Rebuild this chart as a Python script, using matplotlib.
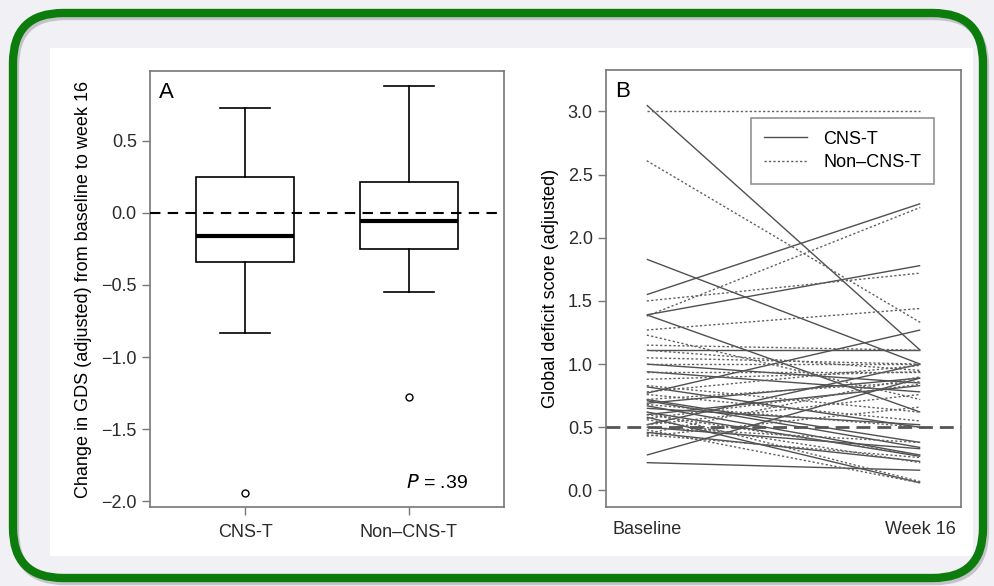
import numpy as np
import matplotlib.pyplot as plt
from matplotlib.patches import FancyBboxPatch, Rectangle
from matplotlib.lines import Line2D

plt.rcParams['font.family'] = ['Liberation Sans', 'DejaVu Sans']

# panel A: box statistics of the change in GDS (baseline -> week 16)
groups = ['CNS-T', 'Non–CNS-T']
box_q1 = [-0.343, -0.248]
box_med = [-0.163, -0.054]
box_q3 = [0.245, 0.213]
whisk_lo = [-0.832, -0.55]
whisk_hi = [0.723, 0.878]
outliers = [[-1.943], [-1.275]]
p_text = '= .39'

# panel B: global deficit score per subject
time_labels = ['Baseline', 'Week 16']
cns_base = [3.05, 1.83, 1.55, 1.39, 1.39, 1.11, 1.00, 0.94, 0.82, 0.77, 0.72, 0.71,
            0.69, 0.67, 0.65, 0.62, 0.60, 0.58, 0.52, 0.50, 0.28, 0.22, 0.46]
cns_wk16 = [1.11, 1.00, 2.27, 1.78, 0.62, 1.11, 0.85, 0.78, 0.50, 1.27, 0.38, 0.34,
            0.89, 0.28, 0.52, 0.27, 0.83, 0.06, 1.00, 0.33, 0.89, 0.16, 0.23]
non_base = [3.00, 2.61, 1.50, 1.38, 1.27, 1.23, 1.15, 1.11, 1.05, 1.00, 0.94, 0.88,
            0.83, 0.78, 0.76, 0.72, 0.68, 0.60, 0.57, 0.56, 0.50, 0.48, 0.45, 0.44,
            0.43, 0.62, 0.52]
non_wk16 = [3.00, 1.33, 1.72, 2.24, 1.44, 0.72, 1.11, 0.95, 1.00, 1.00, 0.94, 0.94,
            0.62, 0.99, 0.55, 0.86, 0.50, 0.28, 0.84, 0.22, 0.38, 0.06, 0.90, 0.26,
            0.66, 0.07, 0.76]

W, H = 995, 586
fig = plt.figure(figsize=(W / 100, H / 100), dpi=100)
fig.patch.set_facecolor('#f0f0f5')


def px_box(x0, y0, x1, y1):
    # pixel box (top-left origin) -> figure fraction rect
    return [x0 / W, 1 - y1 / H, (x1 - x0) / W, (y1 - y0) / H]


# frame: white card, drop shadow, green rounded border (behind the axes)
fig.patches.append(Rectangle((50 / W, 1 - 556 / H), 923 / W, 508 / H,
                             transform=fig.transFigure, facecolor='white',
                             edgecolor='none', zorder=-3))
for off, col, z in [((0.02, -0.03), '#c4c4c8', -2), ((0, 0), '#0c7d0c', -1)]:
    fig.patches.append(FancyBboxPatch((0.13 + off[0], 0.08 + off[1]), 9.70, 5.65,
                                      boxstyle='round,pad=0,rounding_size=0.5',
                                      transform=fig.dpi_scale_trans, facecolor='none',
                                      edgecolor=col, linewidth=6, zorder=z))

frame_col = '#777777'
fs = 13

# ---- panel A ----
axA = fig.add_axes(px_box(150, 71, 504, 507))
stats = []
for i in range(len(groups)):
    stats.append(dict(med=box_med[i], q1=box_q1[i], q3=box_q3[i],
                      whislo=whisk_lo[i], whishi=whisk_hi[i], fliers=outliers[i]))
axA.bxp(stats, positions=[1, 2], widths=0.6, patch_artist=True,
        boxprops=dict(facecolor='white', edgecolor='black', linewidth=1.2),
        medianprops=dict(color='black', linewidth=3),
        whiskerprops=dict(color='black', linewidth=1.2),
        capprops=dict(color='black', linewidth=1.2), capwidths=0.3,
        flierprops=dict(marker='o', markersize=5, markerfacecolor='white',
                        markeredgecolor='black', markeredgewidth=1.0))
axA.axhline(0, color='black', linestyle=(0, (5, 3.5)), linewidth=1.5, zorder=3)
axA.set_xlim(0.42, 2.58)
axA.set_ylim(-2.04, 0.983)
axA.set_yticks([0.5, 0.0, -0.5, -1.0, -1.5, -2.0])
axA.set_yticklabels(['0.5', '0.0', '\u22120.5', '\u22121.0', '\u22121.5', '\u22122.0'])
axA.set_xticks([1, 2])
axA.set_xticklabels(groups)
axA.set_ylabel('Change in GDS (adjusted) from baseline to week 16', fontsize=fs,
               labelpad=7)
axA.text(0.025, 0.975, 'A', transform=axA.transAxes, fontsize=16, va='top', ha='left')
axA.text(0.81, 0.035, r'$P$ ' + p_text, transform=axA.transAxes, fontsize=fs + 1,
         ha='center', va='bottom')

# ---- panel B ----
axB = fig.add_axes(px_box(606, 70, 961, 507))
for b, w in zip(cns_base, cns_wk16):
    axB.plot([1, 2], [b, w], color='#505050', linewidth=1.0, solid_capstyle='butt')
for b, w in zip(non_base, non_wk16):
    axB.plot([1, 2], [b, w], color='#606060', linewidth=1.0, linestyle=(0, (1.6, 1.6)))
axB.axhline(0.5, color='#555555', linestyle=(0, (5, 2.5)), linewidth=2.0, zorder=3)
axB.set_xlim(0.851, 2.149)
axB.set_ylim(-0.131, 3.328)
axB.set_yticks([0.0, 0.5, 1.0, 1.5, 2.0, 2.5, 3.0])
axB.set_xticks([1, 2])
axB.set_xticklabels(time_labels)
axB.set_ylabel('Global deficit score (adjusted)', fontsize=fs, labelpad=6)
axB.text(0.025, 0.975, 'B', transform=axB.transAxes, fontsize=16, va='top', ha='left')
handles = [Line2D([], [], color='#505050', linewidth=1.0),
           Line2D([], [], color='#606060', linewidth=1.0, linestyle=(0, (1.6, 1.6)))]
leg = axB.legend(handles, ['CNS-T', 'Non–CNS-T'], loc='upper left',
                 bbox_to_anchor=((751 - 606) / 355, 1 - (118 - 70) / 437),
                 fontsize=fs, frameon=True, fancybox=False, handlelength=2.4,
                 borderpad=0.7, labelspacing=0.35, handletextpad=0.9,
                 borderaxespad=0)
leg.get_frame().set_edgecolor(frame_col)
leg.get_frame().set_linewidth(1.2)

for ax in (axA, axB):
    for s in ax.spines.values():
        s.set_color(frame_col)
        s.set_linewidth(1.2)
    ax.tick_params(colors=frame_col, labelcolor='#2a2a2a', labelsize=fs,
                   width=1.0, length=6)
    ax.set_facecolor('white')
axA.tick_params(axis='x', pad=6)
axB.tick_params(axis='x', length=0, pad=10)

fig.savefig('out.png', dpi=100, facecolor=fig.get_facecolor())
